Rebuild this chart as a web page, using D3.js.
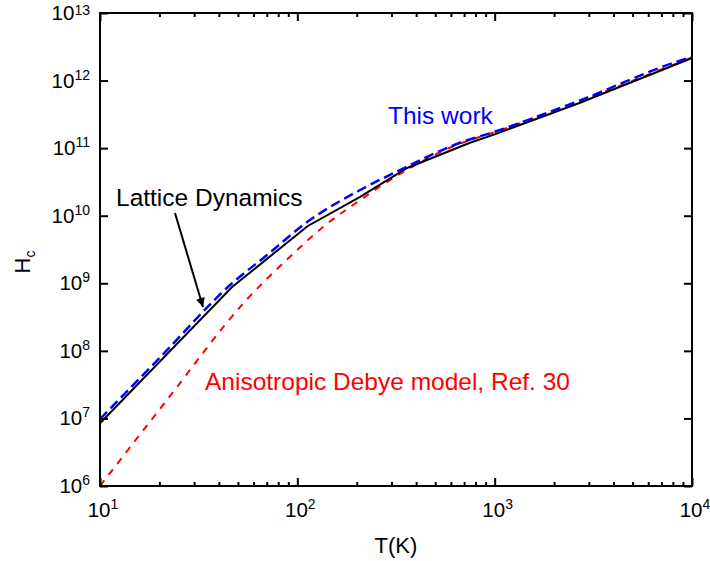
<!DOCTYPE html>
<html><head><meta charset="utf-8">
<script src="https://cdn.jsdelivr.net/npm/d3@7"></script>
<style>body{margin:0;background:#fff}svg{display:block}text{font-family:Arial,"Liberation Sans",sans-serif}</style>
</head><body>
<svg id="c" width="710" height="561"></svg>
<script>
// Data (T in K, Hc)
const latticeT = [10, 46.7, 113, 208, 360, 750, 1000, 2710, 10000];
const latticeH = [8.5e6, 8.8e8, 7.05e9, 1.9e10, 5.08e10, 1.2e11, 1.6e11, 4.7e11, 2.16e12];
const thisWorkT = [10, 20, 46.7, 70, 113, 208, 319, 668, 1000, 2710, 8375, 10000];
const thisWorkH = [9.8e6, 7.8e7, 1.0e9, 2.6e9, 8.2e9, 2.4e10, 4.5e10, 1.2e11, 1.75e11, 5.1e11, 1.9e12, 2.24e12];
const debyeT = [10, 21.8, 54.3, 95.5, 135.5, 208, 345, 668, 1000, 2710, 10000];
const debyeH = [1e6, 1.86e7, 5.37e8, 2.75e9, 6.87e9, 1.7e10, 4.47e10, 1.17e11, 1.72e11, 5.0e11, 2.2e12];
const xTickExp = [1, 2, 3, 4];
const yTickExp = [6, 7, 8, 9, 10, 11, 12, 13];

const svg = d3.select("#c");
const L = 100, R = 692, T = 13, B = 486;
const x = d3.scaleLog().domain([10, 1e4]).range([L, R]);
const y = d3.scaleLog().domain([1e6, 1e13]).range([B, T]);

const zip = (a, b) => a.map((v, i) => [v, b[i]]);
const lineLin = d3.line().x(d => x(d[0])).y(d => y(d[1]));
const lineSmooth = d3.line().x(d => x(d[0])).y(d => y(d[1])).curve(d3.curveMonotoneX);

// curves
svg.append("path").attr("d", lineSmooth(zip(debyeT, debyeH)))
  .attr("fill", "none").attr("stroke", "#ff0000").attr("stroke-width", 2).attr("stroke-dasharray", "7,7");
svg.append("path").attr("d", lineLin(zip(latticeT, latticeH)))
  .attr("fill", "none").attr("stroke", "#000").attr("stroke-width", 2);
svg.append("path").attr("d", lineSmooth(zip(thisWorkT, thisWorkH)))
  .attr("fill", "none").attr("stroke", "#0000ff").attr("stroke-width", 2.5).attr("stroke-dasharray", "10,5");

// axes (ticks inward)
const minorX = [];
for (let e = 1; e < 4; e++) for (let m = 2; m <= 9; m++) minorX.push(m * Math.pow(10, e));
const majorX = xTickExp.map(e => Math.pow(10, e));
const majorY = yTickExp.map(e => Math.pow(10, e));

const axB = d3.axisBottom(x).tickValues(majorX).tickSize(-8).tickFormat("");
const axBm = d3.axisBottom(x).tickValues(minorX).tickSize(-4).tickFormat("");
const axT = d3.axisTop(x).tickValues(majorX).tickSize(-8).tickFormat("");
const axTm = d3.axisTop(x).tickValues(minorX).tickSize(-4).tickFormat("");
const axL = d3.axisLeft(y).tickValues(majorY).tickSize(-8).tickFormat("");
const axR = d3.axisRight(y).tickValues(majorY).tickSize(-8).tickFormat("");
function styleAx(g) { g.selectAll("path.domain").remove(); g.selectAll("line").attr("stroke", "#000").attr("stroke-width", 2); }
svg.append("g").attr("transform", `translate(0,${B})`).call(axB).call(styleAx);
svg.append("g").attr("transform", `translate(0,${B})`).call(axBm).call(styleAx);
svg.append("g").attr("transform", `translate(0,${T})`).call(axT).call(styleAx);
svg.append("g").attr("transform", `translate(0,${T})`).call(axTm).call(styleAx);
svg.append("g").attr("transform", `translate(${L},0)`).call(axL).call(styleAx);
svg.append("g").attr("transform", `translate(${R},0)`).call(axR).call(styleAx);
svg.append("rect").attr("x", L).attr("y", T).attr("width", R - L).attr("height", B - T)
  .attr("fill", "none").attr("stroke", "#000").attr("stroke-width", 2);

// tick labels
function powLabel(sel, e, raise) {
  sel.append("tspan").text("10");
  sel.append("tspan").attr("font-size", 14).attr("dy", -raise).text(e);
}
xTickExp.forEach(e => {
  const t = svg.append("text").attr("x", x(Math.pow(10, e)) + 3).attr("y", 517)
    .attr("text-anchor", "middle").attr("font-size", 20.5).attr("fill", "#000");
  powLabel(t, e, 8);
});
yTickExp.forEach(e => {
  const t = svg.append("text").attr("x", 90).attr("y", y(Math.pow(10, e)) + 7)
    .attr("text-anchor", "end").attr("font-size", 20.5).attr("fill", "#000");
  powLabel(t, e, e === 13 ? 5 : 8);
});

// axis titles
svg.append("text").attr("x", 396).attr("y", 553).attr("text-anchor", "middle")
  .attr("font-size", 22).text("T(K)");
const yt = svg.append("text").attr("transform", "translate(30,262) rotate(-90)")
  .attr("text-anchor", "middle").attr("font-size", 22);
yt.append("tspan").text("H");
yt.append("tspan").attr("font-size", 14).attr("dy", 5).text("c");

// annotations
svg.append("text").attr("x", 388).attr("y", 124).attr("font-size", 24.5).attr("fill", "#0000ff").text("This work");
svg.append("text").attr("x", 116).attr("y", 206).attr("font-size", 24.5).attr("fill", "#000").text("Lattice Dynamics");
svg.append("text").attr("x", 205).attr("y", 390).attr("font-size", 24.5).attr("fill", "#ff0000").text("Anisotropic Debye model, Ref. 30");

// arrow
svg.append("defs").append("marker").attr("id", "ah").attr("viewBox", "0 0 10 10")
  .attr("refX", 10).attr("refY", 5).attr("markerWidth", 14).attr("markerHeight", 9)
  .attr("markerUnits", "userSpaceOnUse").attr("orient", "auto")
  .append("path").attr("d", "M0,0 L10,5 L0,10 Z").attr("fill", "#000");
svg.append("line").attr("x1", 175).attr("y1", 213).attr("x2", 203).attr("y2", 307)
  .attr("stroke", "#000").attr("stroke-width", 2).attr("marker-end", "url(#ah)");
</script>
</body></html>
